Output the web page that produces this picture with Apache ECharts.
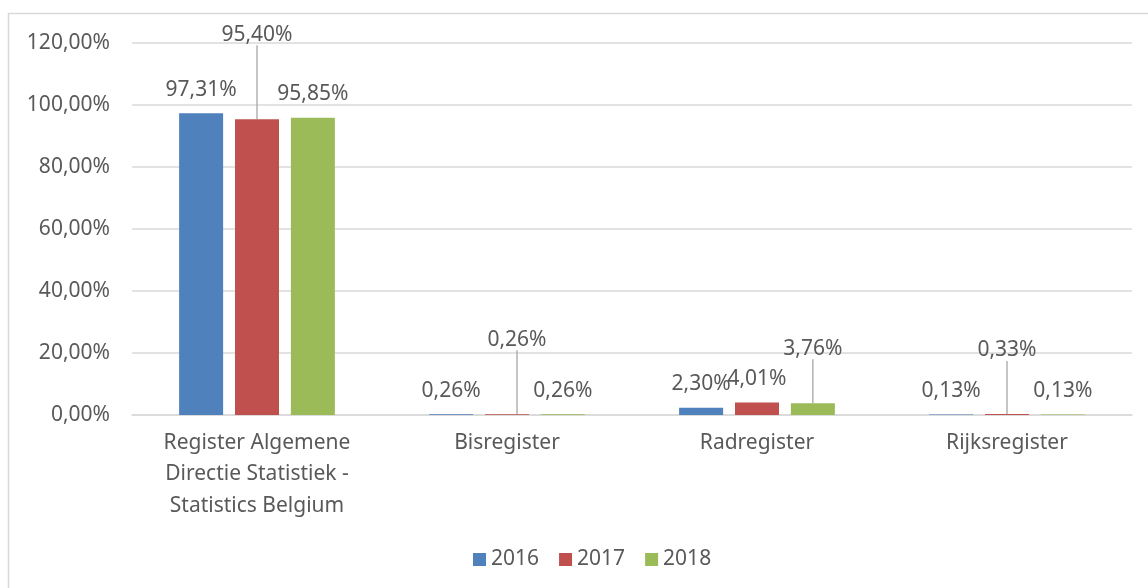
<!DOCTYPE html>
<html>
<head>
<meta charset="utf-8">
<script src="https://cdn.jsdelivr.net/npm/echarts@6/dist/echarts.min.js"></script>
<style>
html,body{margin:0;padding:0;background:#fff;}
#chart{width:1148px;height:588px;}
</style>
</head>
<body>
<div id="chart"></div>
<script>
const categories = ['Register Algemene\nDirectie Statistiek -\nStatistics Belgium', 'Bisregister', 'Radregister', 'Rijksregister'];
const seriesNames = ['2016', '2017', '2018'];
const values2016 = [97.31, 0.26, 2.30, 0.13];
const values2017 = [95.40, 0.26, 4.01, 0.33];
const values2018 = [95.85, 0.26, 3.76, 0.13];
const yTicks = [0, 20, 40, 60, 80, 100, 120];

const colors = ['#4f81bd', '#c0504d', '#9bbb59'];
const FONT = "'Noto Sans', sans-serif";
const TXT = '#595959';
const FS = 21;

// label displacement (leader lines) keyed by series index / data index
const labelMoves = {
  '1-0': {dx: 0, dy: -61},
  '1-1': {dx: 10, dy: -51},
  '2-2': {dx: 0, dy: -31},
  '1-3': {dx: 0, dy: -40}
};

function fmt(v){ return v.toFixed(2).replace('.', ',') + '%'; }

const allValues = [values2016, values2017, values2018];
const chart = echarts.init(document.getElementById('chart'), null, {renderer: 'canvas'});

const series = allValues.map((vals, si) => ({
  name: seriesNames[si],
  type: 'bar',
  barWidth: 44,
  barGap: '27%',
  itemStyle: {color: colors[si]},
  data: vals.map((v, di) => {
    const item = {value: v};
    if (labelMoves[si + '-' + di]) item.labelLine = {show: true};
    return item;
  }),
  label: {
    show: true,
    position: 'top',
    distance: 13,
    fontFamily: FONT,
    fontSize: FS,
    color: TXT,
    formatter: p => fmt(p.value)
  },
  labelLine: {show: false, lineStyle: {color: '#a6a6a6', width: 1.3}},
  labelLayout: function (params) {
    const m = labelMoves[params.seriesIndex + '-' + params.dataIndex];
    if (m) return {dx: m.dx, dy: m.dy};
    return {};
  }
}));

chart.setOption({
  animation: false,
  backgroundColor: '#fff',
  color: colors,
  graphic: [{
    type: 'rect',
    shape: {x: 8.5, y: 13.5, width: 1160, height: 600},
    style: {fill: 'none', stroke: '#d9d9d9', lineWidth: 1.5},
    silent: true,
    z: -1
  }],
  grid: {left: 132, right: 16, top: 43, bottom: 173},
  legend: {
    data: seriesNames,
    bottom: 13,
    left: 468,
    icon: 'rect',
    itemWidth: 13,
    itemHeight: 13,
    itemGap: 20,
    textStyle: {fontFamily: FONT, fontSize: FS, color: TXT}
  },
  xAxis: {
    type: 'category',
    data: categories,
    axisLine: {show: true, lineStyle: {color: '#d9d9d9', width: 1.5}},
    axisTick: {show: false},
    axisLabel: {
      interval: 0,
      margin: 12,
      fontFamily: FONT,
      fontSize: FS,
      lineHeight: 31.5,
      color: TXT
    }
  },
  yAxis: {
    type: 'value',
    min: yTicks[0],
    max: yTicks[yTicks.length - 1],
    interval: yTicks[1] - yTicks[0],
    axisLine: {show: false},
    axisTick: {show: false},
    splitLine: {lineStyle: {color: '#d9d9d9', width: 1.5}},
    axisLabel: {
      margin: 22,
      fontFamily: FONT,
      fontSize: FS,
      color: TXT,
      formatter: v => fmt(v)
    }
  },
  series: series
});
</script>
</body>
</html>
